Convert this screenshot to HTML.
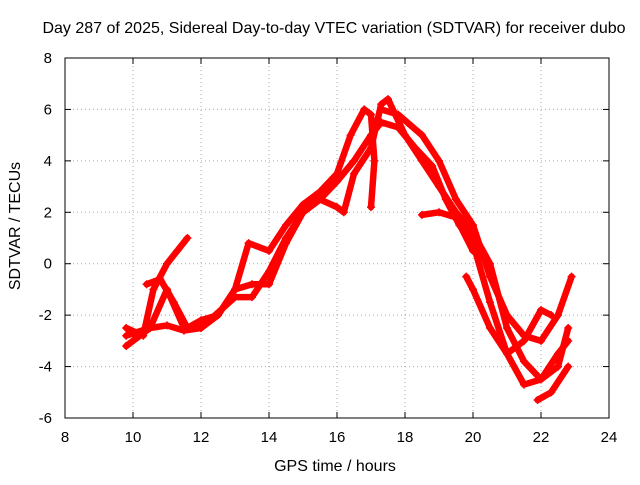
<!DOCTYPE html>
<html><head><meta charset="utf-8"><style>
body{margin:0;background:#fff;}
svg text{font-family:"Liberation Sans",Arial,sans-serif;fill:#000;}
</style></head><body>
<svg id="chart" width="640" height="480" xmlns="http://www.w3.org/2000/svg">
<rect width="640" height="480" fill="#fff"/>
<text x="334" y="33" font-size="16" text-anchor="middle">Day 287 of 2025, Sidereal Day-to-day VTEC variation (SDTVAR) for receiver dubo</text>
<text x="335" y="471" font-size="16" text-anchor="middle">GPS time / hours</text>
<text x="20" y="226" font-size="16" text-anchor="middle" transform="rotate(-90 20 226)">SDTVAR / TECUs</text>
<g id="grid"></g><g id="ticks"></g><g id="series"></g>
<rect x="65" y="58" width="544" height="360" fill="none" stroke="#000" stroke-width="1"/>
</svg>
<script>
const xTicks=[8,10,12,14,16,18,20,22,24];
const yTicks=[-6,-4,-2,0,2,4,6,8];
const track1=[[9.8,-2.5],[10.3,-2.8],[10.6,-1],[11,0],[11.3,0.5],[11.6,1]];
const track2=[[10.4,-0.8],[10.8,-0.6],[11.2,-1.5],[11.6,-2.5],[12,-2.2],[12.5,-2],[13,-1],[13.4,0.8],[14,0.5],[14.5,1.5],[15,2.3],[15.5,2.8],[16,3.5],[16.4,5],[16.8,6],[17,5.8],[17.1,4],[17,2.2]];
const track3=[[9.8,-3.2],[10.5,-2.5],[11,-1],[11.5,-2.5],[12,-2.5],[12.5,-2],[13,-1],[13.5,-0.8],[14,-0.8],[14.5,0.8],[15,2],[15.5,2.5],[16,2.2],[16.2,2],[16.5,3.5],[17,4.5],[17.3,6.2],[17.5,6.4],[18,5],[18.5,4],[19,3],[19.5,2],[20,1.2],[20.5,0],[21,-2.5],[21.5,-3.8],[22,-4.5],[22.5,-4],[22.8,-2.5]];
const track4=[[9.8,-2.8],[10.5,-2.5],[11,-2.4],[11.5,-2.6],[12,-2.5],[13,-1.3],[13.5,-1.3],[14,-0.3],[14.5,1],[15,2],[15.5,2.5],[16,3.2],[16.5,4],[17,5],[17.3,5.5],[17.8,5.3],[18.3,4.5],[18.8,3.8],[19.2,2.5],[19.6,1.5],[20,0.8],[20.5,-1.5],[21,-3.5],[21.5,-4.7],[22,-4.5],[22.5,-3.5],[22.8,-3]];
const track5=[[17.3,6],[17.8,5.8],[18.5,5],[19,4],[19.5,2.5],[20,1.5],[20.5,-0.5],[21,-2],[21.5,-2.8],[22,-3],[22.5,-2],[22.9,-0.5]];
const track6=[[18.5,1.9],[19,2],[19.5,1.8],[20,0.5]];
const track7=[[19.8,-0.5],[20,-1],[20.5,-2.5],[21,-3.5],[21.5,-3],[22,-1.8],[22.3,-2]];
const track8=[[21.9,-5.3],[22.3,-5],[22.8,-4]];
const tracks=[track1,track2,track3,track4,track5,track6,track7,track8];
const NS="http://www.w3.org/2000/svg";
const X=v=>65+(v-8)*34, Y=v=>418-(v+6)*360/14;
const grid=document.getElementById('grid'),ticks=document.getElementById('ticks'),ser=document.getElementById('series');
function mk(t,a,p){const e=document.createElementNS(NS,t);for(const k in a)e.setAttribute(k,a[k]);p.appendChild(e);return e;}
xTicks.forEach(v=>{
 if(v>8&&v<24){const g=mk('line',{x1:X(v),x2:X(v),y1:58,y2:418,stroke:'#aaa','stroke-dasharray':'1,3'},grid);
 
 }
 mk('line',{x1:X(v),x2:X(v),y1:418,y2:412,stroke:'#000'},ticks);
 mk('line',{x1:X(v),x2:X(v),y1:58,y2:64,stroke:'#000'},ticks);
 const t=mk('text',{x:X(v),y:442,'font-size':15,'text-anchor':'middle'},ticks);t.textContent=v;
 
 
});
yTicks.forEach(v=>{
 if(v>-6&&v<8){const g=mk('line',{x1:65,x2:609,y1:Y(v),y2:Y(v),stroke:'#aaa','stroke-dasharray':'1,3'},grid);
 
 }
 mk('line',{x1:65,x2:71,y1:Y(v),y2:Y(v),stroke:'#000'},ticks);
 mk('line',{x1:603,x2:609,y1:Y(v),y2:Y(v),stroke:'#000'},ticks);
 const t=mk('text',{x:52,y:Y(v)+5,'font-size':15,'text-anchor':'end'},ticks);t.textContent=v;
 
 
});
tracks.forEach(tr=>{
 const pl=mk('polyline',{points:tr.map(p=>X(p[0])+','+Y(p[1])).join(' '),fill:'none',stroke:'#f00','stroke-width':6.5,'stroke-linejoin':'round','stroke-linecap':'round'},ser);
 
 
 tr.forEach(p=>{const x=X(p[0]),y=Y(p[1]);
  const m=mk('path',{d:`M${x-4},${y}H${x+4}M${x},${y-4}V${y+4}`,stroke:'#f00','stroke-width':1.5},ser);
  
  });
});
</script>
</body></html>
